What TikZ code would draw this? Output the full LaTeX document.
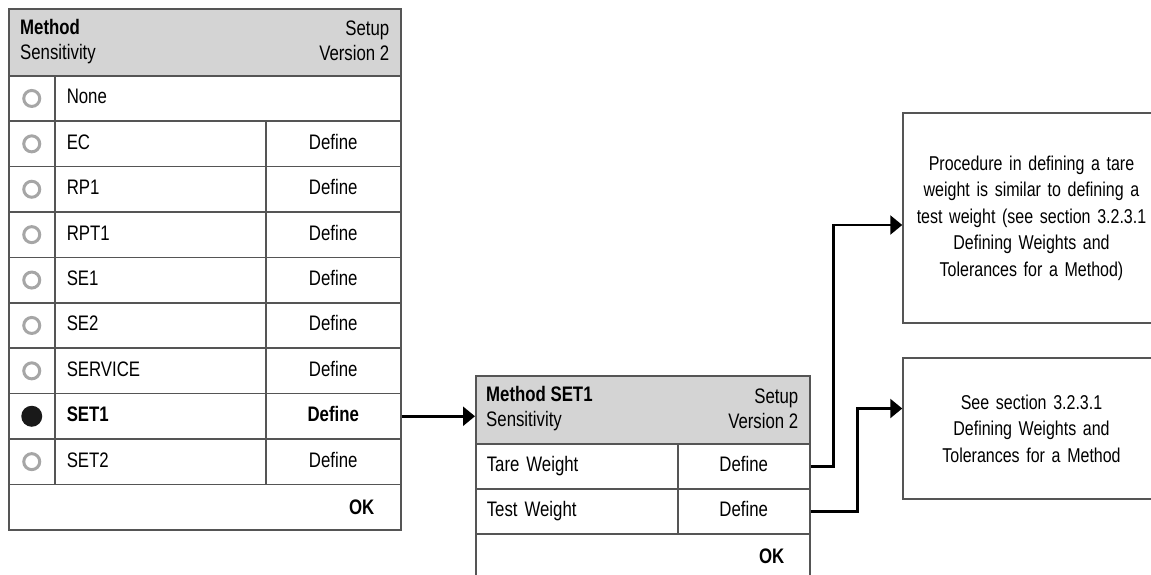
\documentclass[tikz,border=0pt]{standalone}
\usepackage{fontspec}
\setmainfont{Liberation Sans}[FakeStretch=0.8]
\usetikzlibrary{arrows.meta,positioning}
\definecolor{framegray}{HTML}{555555}
\definecolor{headgray}{HTML}{D4D4D4}

\begin{document}
\begin{tikzpicture}[
		x=1pt, y=-1pt,
		font=\fontsize{21}{25}\selectfont,
		frame/.style={draw=framegray, line width=1.5pt},
		head/.style={frame, fill=headgray, anchor=north west, inner sep=0pt},
		cell/.style={frame, anchor=north west, inner sep=0pt, text height=15pt, text depth=4pt},
		lab/.style={cell, inner xsep=12pt, align=left},
		def/.style={cell, align=center},
		radio/.style={circle, draw=gray!70, line width=3pt, fill=white, minimum size=16pt, inner sep=0pt},
		radioon/.style={circle, fill=black!90, minimum size=21pt, inner sep=0pt},
		note/.style={frame, minimum width=257pt, text width=245pt, align=center, inner sep=0pt,
			font=\fontsize{20}{26.5}\selectfont},
		link/.style={line width=2.5pt, -{Triangle[length=12pt, width=19pt]}},
	]
	\useasboundingbox (0,0) rectangle (1151,574);

	% method list
	\node (lhead) [head, minimum width=392pt, minimum height=67pt] at (8,8) {};
	\node (lhead-l) [anchor=west, align=left, inner sep=0pt] at ([xshift=12pt,yshift=1pt]lhead.west) {\textbf{Method}\\Sensitivity};
	\node (lhead-r) [anchor=east, align=right, inner sep=0pt] at ([xshift=-12pt,yshift=1pt]lhead.east) {Setup\\Version 2};
	\node (row0-r) [cell, minimum width=46pt, minimum height=45.4pt] at (8,75) {};
	\node (dot0) [radio] at (row0-r) {};
	\node (row0-l) [lab, text width=322pt, minimum height=45.4pt] at (54,75) {None};
	\foreach \lab/\dot/\wt [count=\i] in {EC/radio/, RP1/radio/, RPT1/radio/, SE1/radio/, SE2/radio/,
			SERVICE/radio/, SET1/radioon/\bfseries, SET2/radio/} {
		\node (row\i-r) [cell, minimum width=46pt, minimum height=45.4pt] at (8,75+\i*45.4) {};
		\node (dot\i) [\dot] at (row\i-r) {};
		\node (row\i-l) [lab, text width=187pt, minimum height=45.4pt] at (54,75+\i*45.4) {\wt\lab};
		\node (row\i-d) [def, minimum width=135pt, minimum height=45.4pt] at (265,75+\i*45.4) {\wt Define};
	}
	\node (lok) [cell, minimum width=392pt, minimum height=45.4pt] at (8,483.6) {};
	\node (lok-t) [anchor=east, inner sep=0pt] at ([xshift=-27pt]lok.east) {\textbf{OK}};

	% method SET1
	\node (rhead) [head, minimum width=334pt, minimum height=68pt] at (475,375) {};
	\node (rhead-l) [anchor=west, align=left, inner sep=0pt] at ([xshift=11pt,yshift=1pt]rhead.west) {\textbf{Method SET1}\\Sensitivity};
	\node (rhead-r) [anchor=east, align=right, inner sep=0pt] at ([xshift=-12pt,yshift=1pt]rhead.east) {Setup\\Version 2};
	\node (tare-l) [lab, text width=180pt, minimum height=45pt, inner xsep=11pt] at (475,443) {Tare Weight};
	\node (tare-d) [def, minimum width=132pt, minimum height=45pt] at (677,443) {Define};
	\node (test-l) [lab, text width=180pt, minimum height=45pt, inner xsep=11pt] at (475,488) {Test Weight};
	\node (test-d) [def, minimum width=132pt, minimum height=45pt] at (677,488) {Define};
	\node (rok) [cell, minimum width=334pt, minimum height=45pt] at (475,533) {};
	\node (rok-t) [anchor=east, inner sep=0pt] at ([xshift=-26pt]rok.east) {\textbf{OK}};

	% notes
	\node (tarenote) [note, minimum height=210pt] at (1031.5,218) {Procedure in defining a tare\\ weight is similar to defining a\\ test weight (see section 3.2.3.1\\ Defining Weights and\\ Tolerances for a Method)};
	\node (testnote) [note, minimum height=141pt] at (1031.5,428.5) {See section 3.2.3.1\\ Defining Weights and\\ Tolerances for a Method};

	\draw[link] (row7-d.east) -- (row7-d.east -| rhead.west);
	\draw[link] (tare-d.east) -- ++(23,0) |- ([yshift=-7pt]tarenote.west);
	\draw[link] (test-d.east) -- ++(47,0) |- ([yshift=20pt]testnote.west);
\end{tikzpicture}
\end{document}
